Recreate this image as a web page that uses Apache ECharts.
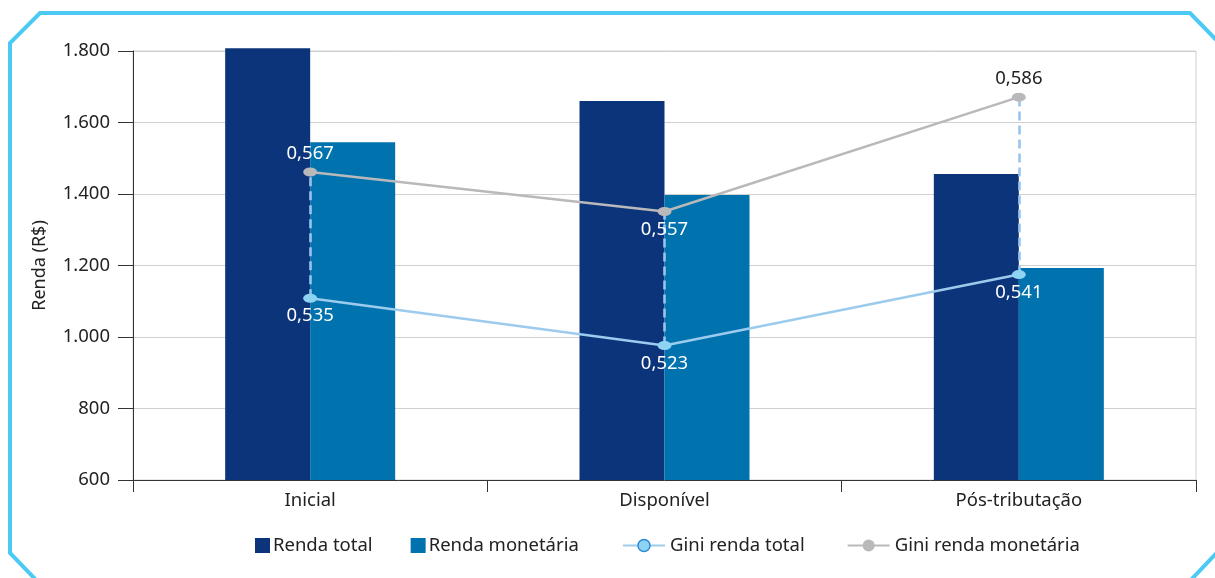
<!DOCTYPE html>
<html>
<head>
<meta charset="utf-8">
<script src="https://cdn.jsdelivr.net/npm/echarts@6/dist/echarts.min.js"></script>
<style>
html,body{margin:0;padding:0;background:#fff;}
#chart{width:1215px;height:578px;}
</style>
</head>
<body>
<div id="chart"></div>
<script>
var categories = ['Inicial', 'Disponível', 'Pós-tributação'];
var rendaTotal = [1808, 1660, 1456];
var rendaMonetaria = [1545, 1397, 1193];
var giniTotal = [0.535, 0.523, 0.541];
var giniMonetaria = [0.567, 0.557, 0.586];
var giniMonLabelPos = ['top', 'bottom', 'top'];
var giniMonLabelColor = ['#ffffff', '#ffffff', '#222222'];
var yTicks = ['600', '800', '1.000', '1.200', '1.400', '1.600', '1.800'];

var FONT = 'Noto Sans';
var FS = 18.5;
var chart = echarts.init(document.getElementById('chart'));

function fmtGini(v) { return v.toFixed(3).replace('.', ','); }
function fmtThousand(v) { return String(v).replace(/\B(?=(\d{3})+(?!\d))/g, '.'); }

// main plot: top 51, bottom 480 (429 px for 600..1800)
// bar grid: same scale but a little taller at the top so the tallest bar is not clipped
var GRID_TOP = 51, GRID_BOTTOM = 98, EXTRA = 12;
var barAxisMax = 600 + 1200 * (429 + EXTRA) / 429;

var option = {
  animation: false,
  textStyle: { fontFamily: FONT },
  grid: [
    { left: 133, right: 19, top: GRID_TOP, bottom: GRID_BOTTOM, show: true, borderColor: '#d0d0d0', borderWidth: 1 },
    { left: 133, right: 19, top: GRID_TOP - EXTRA, bottom: GRID_BOTTOM, show: false }
  ],
  legend: [
    {
      left: 255, top: 536, padding: 0, itemWidth: 15, itemHeight: 15, itemGap: 38, icon: 'rect',
      textStyle: { fontSize: FS, color: '#222', fontFamily: FONT, padding: [0, 0, 0, -2] },
      data: ['Renda total', 'Renda monetária']
    },
    {
      left: 622, top: 536, padding: 0, itemWidth: 42, itemHeight: 15, itemGap: 42,
      textStyle: { fontSize: FS, color: '#222', fontFamily: FONT },
      data: [
        { name: 'Gini renda total', itemStyle: { borderColor: '#2d8bd6', borderWidth: 1.5 } },
        { name: 'Gini renda monetária' }
      ]
    }
  ],
  xAxis: [
    {
      type: 'category', gridIndex: 0,
      data: categories,
      boundaryGap: true,
      axisLine: { lineStyle: { color: '#333', width: 1 } },
      axisTick: { show: true, length: 12, alignWithLabel: false, lineStyle: { color: '#333' } },
      axisLabel: { fontSize: FS, color: '#222', margin: 11, fontFamily: FONT },
      z: 3
    },
    {
      type: 'category', gridIndex: 1, data: categories, boundaryGap: true, show: false
    }
  ],
  yAxis: [
    {
      type: 'value', gridIndex: 0, min: 600, max: 1800, interval: 200,
      name: 'Renda (R$)', nameLocation: 'middle', nameGap: 84, nameRotate: 90,
      nameTextStyle: { fontSize: 18, color: '#222', fontFamily: FONT },
      axisLine: { show: true, lineStyle: { color: '#333', width: 1 } },
      axisTick: { show: true, length: 15, lineStyle: { color: '#333' } },
      axisLabel: {
        fontSize: FS, color: '#222', margin: 23, fontFamily: FONT,
        formatter: function (v) { var i = Math.round((v - 600) / 200); return yTicks[i] !== undefined ? yTicks[i] : fmtThousand(v); }
      },
      splitLine: { show: true, lineStyle: { color: '#d0d0d0', width: 1 } }
    },
    {
      type: 'value', gridIndex: 0, min: 0.4889, max: 0.5977, show: false,
      splitLine: { show: false }
    },
    {
      type: 'value', gridIndex: 1, min: 600, max: barAxisMax, show: false,
      splitLine: { show: false }
    }
  ],
  series: [
    {
      name: 'Renda total', type: 'bar', xAxisIndex: 1, yAxisIndex: 2, data: rendaTotal, barWidth: 85, barGap: '0%',
      itemStyle: { color: '#0b347a' }, z: 2
    },
    {
      name: 'Renda monetária', type: 'bar', xAxisIndex: 1, yAxisIndex: 2, data: rendaMonetaria, barWidth: 85,
      itemStyle: { color: '#0072ae' }, z: 2
    },
    {
      name: 'connectors', type: 'line', xAxisIndex: 0, yAxisIndex: 1, data: [], z: 3, silent: true,
      markLine: {
        silent: true, symbol: ['none', 'none'], animation: false,
        label: { show: false },
        lineStyle: { type: [9, 5], color: '#98c5ef', width: 2.6 },
        emphasis: { disabled: true },
        data: categories.map(function (c, i) {
          return [{ coord: [c, giniTotal[i]] }, { coord: [c, giniMonetaria[i]] }];
        })
      }
    },
    {
      name: 'Gini renda total', type: 'line', xAxisIndex: 0, yAxisIndex: 1, data: giniTotal, z: 5,
      symbol: 'circle', symbolSize: [14, 9],
      lineStyle: { color: '#9dcbee', width: 2.5 },
      itemStyle: { color: '#8fd3f3', borderColor: '#8fd3f3', borderWidth: 0 },
      label: {
        show: true, position: 'bottom', distance: 4, color: '#ffffff', fontSize: FS, fontFamily: FONT,
        formatter: function (p) { return fmtGini(p.value); }
      }
    },
    {
      name: 'Gini renda monetária', type: 'line', xAxisIndex: 0, yAxisIndex: 1, z: 6,
      data: giniMonetaria.map(function (v, i) {
        return { value: v, label: { position: giniMonLabelPos[i], color: giniMonLabelColor[i] } };
      }),
      symbol: 'circle', symbolSize: [14, 9],
      lineStyle: { color: '#b9b9bc', width: 2.5 },
      itemStyle: { color: '#b9b9bc' },
      label: {
        show: true, distance: 4, fontSize: FS, fontFamily: FONT,
        formatter: function (p) { return fmtGini(p.value); }
      }
    }
  ],
  graphic: [
    {
      type: 'polyline', silent: true, z: 100,
      shape: { points: [[38, 582], [10, 553], [10, 43], [40, 13], [1190, 13], [1225, 49]] },
      style: { stroke: '#4ccaf4', lineWidth: 4, fill: null }
    },
    {
      type: 'polyline', silent: true, z: 100,
      shape: { points: [[1225, 544], [1189, 582]] },
      style: { stroke: '#4ccaf4', lineWidth: 4, fill: null }
    }
  ]
};
chart.setOption(option);
</script>
</body>
</html>
